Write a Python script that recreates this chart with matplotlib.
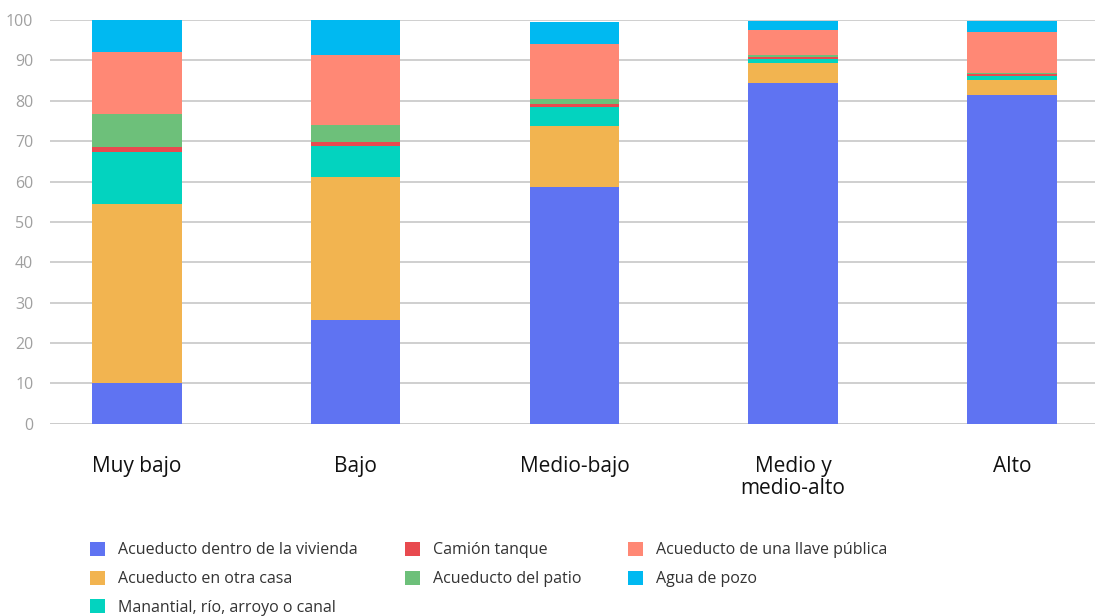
import matplotlib
matplotlib.use("Agg")
import matplotlib.pyplot as plt
import numpy as np

categories = ["Muy bajo", "Bajo", "Medio-bajo", "Medio y\nmedio-alto", "Alto"]
series_names = ["Acueducto dentro de la vivienda", "Acueducto en otra casa",
                "Manantial, río, arroyo o canal", "Camión tanque",
                "Acueducto del patio", "Acueducto de una llave pública",
                "Agua de pozo"]
dentro = [10.1, 25.7, 58.7, 84.4, 81.4]
otra_casa = [44.4, 35.4, 15.1, 5.0, 3.7]
manantial = [12.8, 7.7, 4.7, 0.9, 1.0]
camion = [1.3, 1.0, 0.7, 0.5, 0.5]
patio = [8.1, 4.2, 1.2, 0.5, 0.2]
llave = [15.4, 17.3, 13.7, 6.2, 10.3]
pozo = [7.9, 8.7, 5.4, 2.3, 2.7]
colors = ["#5F73F2", "#F2B450", "#03D3BF", "#E84A4F", "#6DC07A", "#FF8875", "#00B9F1"]
yticks = [0, 10, 20, 30, 40, 50, 60, 70, 80, 90, 100]

plt.rcParams['font.family'] = ['Open Sans', 'DejaVu Sans']

fig = plt.figure(figsize=(10.95, 6.16), dpi=100)
ax = fig.add_axes([0.0457, 0.312, 0.9543, 0.6555])

data = [dentro, otra_casa, manantial, camion, patio, llave, pozo]
x = np.arange(len(categories))
bottom = np.zeros(len(categories))
handles = []
for name, vals, c in zip(series_names, data, colors):
    b = ax.bar(x, vals, 0.41, bottom=bottom, color=c, label=name, zorder=3)
    handles.append(b)
    bottom += np.array(vals)

ax.set_ylim(0, 100)
ax.set_xlim(-0.397, 4.38)
ax.set_yticks(yticks)
ax.yaxis.grid(True, color="#cccccc", linewidth=1.3, zorder=0)
ax.set_axisbelow(True)
for s in ax.spines.values():
    s.set_visible(False)
ax.axhline(0, color="#cccccc", linewidth=2, zorder=1)
ax.tick_params(axis='y', length=0, labelsize=11.5, labelcolor="#a0a0a0", pad=12)
ax.tick_params(axis='x', length=0, labelsize=15, labelcolor="#111111", pad=23)
ax.set_xticks(x)
ax.set_xticklabels(categories, va='top', linespacing=1.05)
for t in ax.get_yticklabels():
    t.set_clip_on(False)

leg = fig.legend(handles, series_names,
                 ncol=3, loc='upper left', bbox_to_anchor=(0.0822, 0.120),
                 frameon=False, fontsize=11.5, handlelength=0.95, handleheight=0.95,
                 handletextpad=0.8, columnspacing=2.95, labelspacing=0.77,
                 borderpad=0, borderaxespad=0)
for t in leg.get_texts():
    t.set_color("#333333")

fig.savefig("out.png", dpi=100)
